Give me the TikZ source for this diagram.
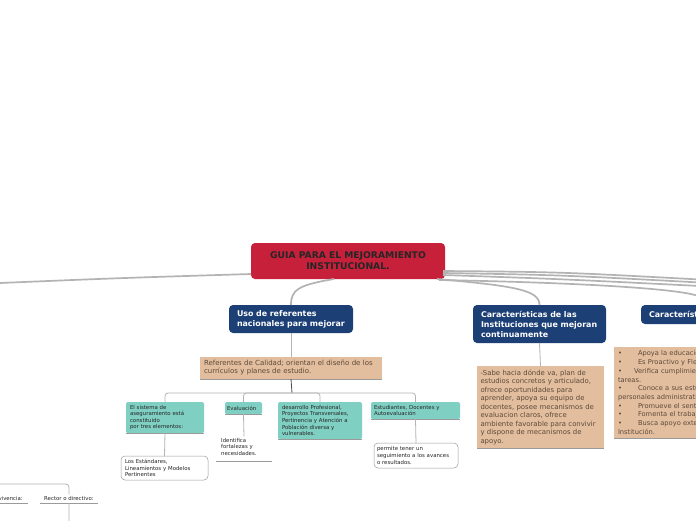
\documentclass[tikz,border=0pt]{standalone}
\usepackage{fontspec}
\setmainfont{DejaVu Sans}
\usetikzlibrary{calc}
\definecolor{rootred}{HTML}{C6203A}
\definecolor{navy}{HTML}{1C3F75}
\definecolor{tan}{HTML}{E3BE9E}
\definecolor{tantext}{HTML}{5C4A3A}
\definecolor{teal}{HTML}{7FCFC2}
\definecolor{linegray}{HTML}{B3B3B3}
\definecolor{edgegray}{HTML}{9A9A9A}
\begin{document}
\begin{tikzpicture}[x=1pt,y=-1pt,
  bx/.style={anchor=north west, outer sep=0pt, inner ysep=0pt, align=left},
  rootbox/.style={bx, fill=rootred, rounded corners=4pt, align=center, text=black!85,
    font=\fontsize{9.2}{11}\selectfont\bfseries},
  bluebox/.style={bx, fill=navy, rounded corners=4pt, text=white,
    font=\fontsize{7.9}{10}\selectfont\bfseries},
  tanbox/.style={bx, fill=tan, text=tantext},
  tealbox/.style={bx, fill=teal, rounded corners=1.5pt, text=black!85,
    font=\fontsize{5.4}{6.6}\selectfont},
  whitebox/.style={bx, draw=edgegray, line width=0.5pt, rounded corners=4pt, fill=white,
    text=black!85, font=\fontsize{5.4}{6.6}\selectfont},
  plaintext/.style={anchor=north west, inner sep=0pt, align=left, text=black!85,
    font=\fontsize{5.4}{6.6}\selectfont},
  mainline/.style={draw=linegray, line width=1.7pt},
  treeline/.style={draw=linegray, line width=0.8pt},
  darkline/.style={draw=black!70, line width=0.8pt},
  underline/.style={draw=edgegray, line width=0.6pt}
]
\useasboundingbox (0,0) rectangle (696,520);
\fill[white] (0,0) rectangle (696,520);

% off-picture ends
\coordinate (offL) at (-5,283.2);
\coordinate (offR1) at (700,279.5);
\coordinate (offR2) at (700,282.5);
\coordinate (offR3) at (700,286);
\coordinate (offR4) at (700,297);
\coordinate (offL2) at (-5,484);
\coordinate (offB) at (69,525);

% root
\node[rootbox, minimum width=194, minimum height=36, text width=184, inner xsep=5] (root) at (251,243)
  {GUIA PARA EL MEJORAMIENTO\\INSTITUCIONAL.};

% level 1
\node[bluebox, minimum width=124, minimum height=28, text width=108, inner xsep=8] (blue1) at (229,305)
  {Uso de referentes\\nacionales para mejorar};
\node[bluebox, minimum width=133, minimum height=38, text width=117, inner xsep=8] (blue2) at (473,305)
  {Características de las\\Instituciones que mejoran\\continuamente};
\node[bluebox, minimum width=200, minimum height=19, text width=184, inner xsep=8] (blue3) at (641,305)
  {Características de un buen rector};

% connectors from root
\draw[mainline] ($(root.south west)+(0,-5)$) .. controls (120,278) .. (offL);
\draw[mainline] ($(root.south)+(-14,0)$) .. controls (298,285) and (291,290) .. (blue1.north);
\draw[mainline] ($(root.south east)+(-2,-8)$) .. controls (560,272) .. (offR1);
\draw[mainline] ($(root.south east)+(-2,-6)$) .. controls (560,275) .. (offR2);
\draw[mainline] ($(root.south east)+(-2,-4)$) .. controls (560,279) .. (offR3);
\draw[mainline] ($(root.south east)+(-8,0)$) .. controls (515,286) and (539.5,290) .. (blue2.north);
\draw[mainline] ($(root.south east)+(-6,1)$) .. controls (600,283) and (690,290) .. (offR4);

% level 2 under blue1
\node[tanbox, minimum width=182, minimum height=22, text width=174, inner xsep=4,
  font=\fontsize{7}{8}\selectfont] (ref) at (200,357)
  {Referentes de Calidad; orientan el diseño de los\\currículos y planes de estudio.};
\draw[underline] (ref.south west) -- (ref.south east);
\draw[treeline] (blue1.south) -- (ref.north);

% teal children
\node[tealbox, minimum width=78, minimum height=31, text width=70, inner xsep=4] (t1) at (126,402)
  {El sistema de\\aseguramiento está\\constituido\\por tres elementos:};
\node[tealbox, minimum width=37, minimum height=12, text width=33, inner xsep=2] (t2) at (225,402)
  {Evaluación};
\node[tealbox, minimum width=84, minimum height=37, text width=76, inner xsep=4] (t3) at (278,402)
  {desarrollo Profesional,\\Proyectos Transversales,\\Pertinencia y Atención a\\Población diversa y\\vulnerables.};
\node[tealbox, minimum width=89, minimum height=17, text width=83, inner xsep=3] (t4) at (371,402)
  {Estudiantes, Docentes y\\Autoevaluación};
\foreach \n in {t1,t2,t3,t4} \draw[underline] (\n.south west) -- (\n.south east);

\coordinate (bar) at (292,393);
\draw[darkline] (ref.south) -- (bar);
\foreach \n in {t1,t2,t3,t4} \draw[treeline, rounded corners=3pt] (bar) -| (\n.north);

% level 3
\node[whitebox, minimum width=87, minimum height=24, text width=79, inner xsep=4] (w1) at (121,456)
  {Los Estándares,\\Lineamientos y Modelos\\Pertinentes};
\draw[treeline] (t1.south) -- (w1.north);

\node[plaintext] (ident) at (221,438) {Identifica\\fortalezas y\\necesidades.};
\draw[underline] (216,461) -- (272,461);
\draw[treeline] (t2.south) -- (244,436.5);

\node[whitebox, minimum width=84, minimum height=25, text width=78, inner xsep=3] (w2) at (374,443)
  {permite tener un\\seguimiento a los avances\\o resultados.};
\draw[treeline] (t4.south) -- (w2.north);

% under blue2
\node[tanbox, minimum width=126, minimum height=82, text width=120, inner xsep=3.5,
  font=\fontsize{6.9}{8.5}\selectfont] (tan2) at (477,366)
  {-Sabe hacia dónde va, plan de\\estudios concretos y articulado,\\ofrece oportunidades para\\aprender, apoya su equipo de\\docentes, posee mecanismos de\\evaluacion claros, ofrece\\ambiente favorable para convivir\\y dispone de mecanismos de\\apoyo.};
\draw[underline] (tan2.south west) -- (tan2.south east);
\draw[treeline] (blue2.south) -- (tan2.north);

% under blue3
\newcommand{\bul}{\makebox[20pt][l]{•}}
\node[tanbox, minimum width=200, minimum height=91, text width=192, inner xsep=4,
  font=\fontsize{6.7}{8.7}\selectfont] (tan3) at (614,347)
  {\bul Apoya la educación de calidad.\\
   \bul Es Proactivo y Flexible.\\
   \makebox[16pt][l]{•}Verifica cumplimiento de metas y\\tareas.\\
   \bul Conoce a sus estudiantes, docentes y\\personales administrativos.\\
   \bul Promueve el sentido de pertenencia.\\
   \bul Fomenta el trabajo en equipo.\\
   \bul Busca apoyo externo para la\\Institución.};
\draw[underline] (tan3.south west) -- (tan3.south east);

% bottom left fragment
\node[plaintext, anchor=south east] (conv) at (23,501) {Convivencia:};
\node[plaintext, anchor=south west] (rect) at (44,501) {Rector o directivo:};
\draw[underline] (-5,503) -- (28,503);
\draw[underline] (40,503) -- (98,503);
\draw[treeline, rounded corners=3pt] (offL2) -| ($(rect.north)+(0,-2)$);
\draw[treeline] ($(rect.south)+(0,2)$) -- (offB);
\end{tikzpicture}
\end{document}
